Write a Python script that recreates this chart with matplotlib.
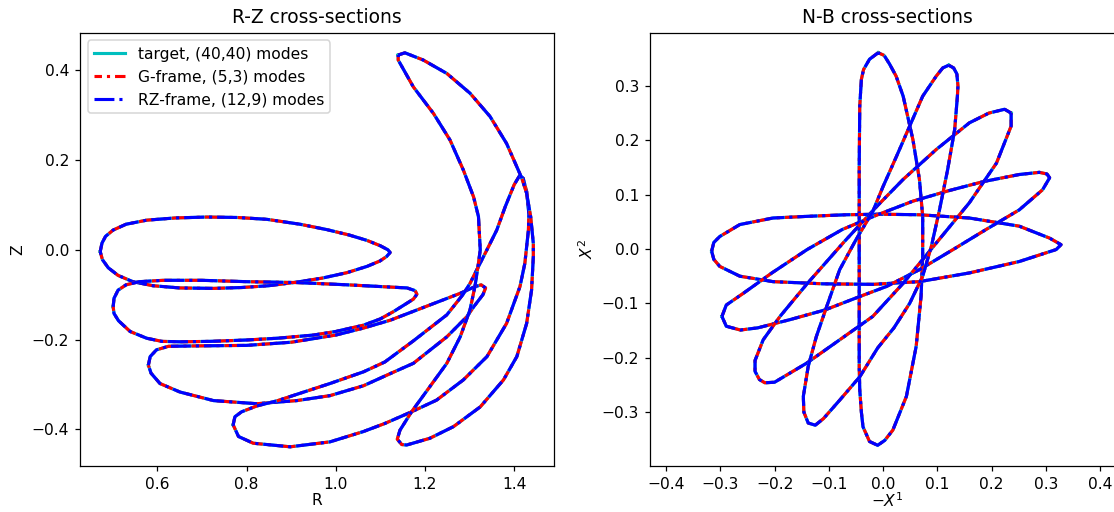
import matplotlib
matplotlib.use("Agg")
import matplotlib.pyplot as plt

# cross-section outlines (R, Z) and (-X1, X2)
rz_sec1 = [(0.472, -0.004), (0.476, 0.015), (0.484, 0.030), (0.501, 0.044), (0.530, 0.057),
           (0.576, 0.066), (0.640, 0.071), (0.711, 0.073), (0.780, 0.072), (0.845, 0.068),
           (0.920, 0.057), (0.980, 0.045), (1.030, 0.033), (1.070, 0.021), (1.100, 0.009),
           (1.117, 0.000), (1.122, -0.006), (1.114, -0.015), (1.099, -0.025), (1.070, -0.037),
           (1.025, -0.051), (0.970, -0.063), (0.913, -0.072), (0.850, -0.080), (0.790, -0.084),
           (0.726, -0.086), (0.650, -0.085), (0.590, -0.080), (0.545, -0.071), (0.512, -0.057),
           (0.490, -0.040), (0.477, -0.022)]
rz_sec2 = [(0.501, -0.127), (0.503, -0.108), (0.512, -0.090), (0.530, -0.078), (0.560, -0.071),
           (0.613, -0.068), (0.700, -0.068), (0.800, -0.071), (0.913, -0.073), (1.025, -0.078),
           (1.122, -0.083), (1.160, -0.085), (1.178, -0.091), (1.182, -0.099), (1.174, -0.110),
           (1.150, -0.125), (1.129, -0.138), (1.100, -0.154), (1.062, -0.168), (1.000, -0.182),
           (0.950, -0.190), (0.870, -0.197), (0.800, -0.201), (0.720, -0.204), (0.651, -0.205),
           (0.610, -0.204), (0.576, -0.197), (0.539, -0.182), (0.513, -0.158), (0.503, -0.142)]
rz_sec3 = [(0.580, -0.257), (0.584, -0.238), (0.598, -0.223), (0.625, -0.215), (0.700, -0.214),
           (0.800, -0.213), (0.900, -0.206), (1.000, -0.190), (1.060, -0.175), (1.122, -0.157),
           (1.211, -0.123), (1.279, -0.097), (1.310, -0.083), (1.326, -0.078), (1.336, -0.085),
           (1.330, -0.100), (1.310, -0.126), (1.294, -0.149), (1.249, -0.194), (1.174, -0.253),
           (1.122, -0.276), (1.062, -0.303), (0.987, -0.325), (0.913, -0.336), (0.823, -0.343),
           (0.726, -0.336), (0.651, -0.317), (0.606, -0.298), (0.586, -0.275)]
rz_sec4 = [(0.770, -0.390), (0.774, -0.372), (0.789, -0.361), (0.823, -0.348), (0.870, -0.336),
           (0.913, -0.322), (0.987, -0.298), (1.062, -0.272), (1.110, -0.250), (1.174, -0.203),
           (1.249, -0.145), (1.285, -0.100), (1.301, -0.075), (1.316, -0.045), (1.339, 0.000),
           (1.361, 0.044), (1.380, 0.096), (1.400, 0.145), (1.412, 0.165), (1.420, 0.160),
           (1.428, 0.130), (1.433, 0.080), (1.432, 0.044), (1.424, -0.030), (1.413, -0.082),
           (1.383, -0.164), (1.339, -0.238), (1.286, -0.290), (1.226, -0.335), (1.170, -0.361),
           (1.110, -0.387), (1.062, -0.405), (0.987, -0.428), (0.898, -0.439), (0.815, -0.431),
           (0.782, -0.416)]
rz_sec5 = [(1.140, 0.434), (1.155, 0.439), (1.196, 0.423), (1.249, 0.393), (1.301, 0.349),
           (1.346, 0.297), (1.383, 0.237), (1.406, 0.185), (1.417, 0.160), (1.428, 0.126),
           (1.437, 0.074), (1.443, 0.014), (1.443, -0.015), (1.439, -0.090), (1.428, -0.164),
           (1.406, -0.238), (1.376, -0.290), (1.324, -0.350), (1.264, -0.394), (1.211, -0.420),
           (1.159, -0.435), (1.148, -0.434), (1.138, -0.422), (1.144, -0.402), (1.170, -0.361),
           (1.211, -0.305), (1.249, -0.253), (1.279, -0.194), (1.301, -0.134), (1.312, -0.082),
           (1.320, -0.030), (1.324, 0.000), (1.320, 0.074), (1.309, 0.118), (1.286, 0.178),
           (1.256, 0.245), (1.219, 0.304), (1.174, 0.363), (1.140, 0.423)]

nb_sec1 = [(-0.009, 0.361), (-0.025, 0.349), (-0.036, 0.330), (-0.040, 0.312), (-0.043, 0.263),
           (-0.044, 0.150), (-0.044, 0.030), (-0.044, -0.093), (-0.044, -0.216), (-0.043, -0.259),
           (-0.040, -0.300), (-0.037, -0.327), (-0.025, -0.354), (-0.010, -0.361), (0.003, -0.352),
           (0.018, -0.333), (0.043, -0.271), (0.061, -0.179), (0.070, -0.087), (0.073, -0.014),
           (0.073, 0.060), (0.067, 0.128), (0.055, 0.201), (0.037, 0.281), (0.024, 0.318),
           (0.012, 0.340), (0.002, 0.356)]
nb_sec2 = [(-0.316, -0.004), (-0.312, 0.012), (-0.301, 0.023), (-0.264, 0.045), (-0.203, 0.057),
           (-0.141, 0.060), (-0.068, 0.063), (-0.006, 0.064), (0.067, 0.063), (0.159, 0.057),
           (0.251, 0.042), (0.307, 0.020), (0.328, 0.008), (0.319, -0.001), (0.251, -0.023),
           (0.159, -0.044), (0.067, -0.060), (-0.019, -0.065), (-0.111, -0.064), (-0.203, -0.060),
           (-0.264, -0.050), (-0.301, -0.032), (-0.312, -0.019)]
nb_sec3 = [(-0.297, -0.124), (-0.289, -0.103), (-0.257, -0.081), (-0.205, -0.044), (-0.140, -0.001),
           (-0.075, 0.036), (-0.010, 0.063), (0.055, 0.088), (0.120, 0.107), (0.185, 0.124),
           (0.251, 0.137), (0.288, 0.141), (0.302, 0.138), (0.307, 0.131), (0.294, 0.109),
           (0.251, 0.072), (0.190, 0.036), (0.129, -0.001), (0.067, -0.038), (0.006, -0.069),
           (-0.042, -0.087), (-0.107, -0.112), (-0.172, -0.130), (-0.231, -0.145), (-0.263, -0.149),
           (-0.289, -0.142)]
nb_sec4 = [(0.236, 0.250), (0.224, 0.257), (0.195, 0.250), (0.159, 0.232), (0.098, 0.183),
           (0.037, 0.128), (-0.010, 0.080), (-0.072, 0.013), (-0.141, -0.065), (-0.190, -0.124),
           (-0.221, -0.167), (-0.236, -0.205), (-0.236, -0.225), (-0.228, -0.240), (-0.218, -0.246),
           (-0.200, -0.245), (-0.141, -0.210), (-0.080, -0.167), (-0.019, -0.124), (0.037, -0.063),
           (0.098, 0.011), (0.159, 0.085), (0.209, 0.158), (0.236, 0.226)]
nb_sec5 = [(0.121, 0.338), (0.130, 0.333), (0.136, 0.322), (0.138, 0.300), (0.137, 0.281),
           (0.132, 0.220), (0.119, 0.146), (0.104, 0.072), (0.089, 0.005), (0.073, -0.050),
           (0.049, -0.100), (0.020, -0.145), (-0.010, -0.182), (-0.043, -0.235), (-0.080, -0.278),
           (-0.110, -0.312), (-0.125, -0.324), (-0.138, -0.320), (-0.146, -0.300), (-0.147, -0.271),
           (-0.138, -0.216), (-0.123, -0.161), (-0.104, -0.106), (-0.080, -0.038), (-0.050, 0.017),
           (-0.019, 0.069), (0.000, 0.115), (0.025, 0.171), (0.049, 0.226), (0.073, 0.281),
           (0.098, 0.318), (0.110, 0.333)]

rz_sections = [rz_sec1, rz_sec2, rz_sec3, rz_sec4, rz_sec5]
nb_sections = [nb_sec1, nb_sec2, nb_sec3, nb_sec4, nb_sec5]

labels = ["target, (40,40) modes", "G-frame, (5,3) modes", "RZ-frame, (12,9) modes"]
colors = ["c", "r", "b"]
styles = ["-", (4.0, (6.4, 1.6, 1.0, 1.6)), (0, (6.4, 1.6, 1.0, 1.6))]

DPI = 112
fig = plt.figure(figsize=(1114 / DPI, 512 / DPI), dpi=DPI)
ax1 = fig.add_axes([80 / 1114, 46.3 / 512, 474.3 / 1114, 433 / 512])
ax2 = fig.add_axes([650 / 1114, 46.3 / 512, 474.3 / 1114, 433 / 512])


def draw(ax, sections):
    for i, sec in enumerate(sections):
        xs = [p[0] for p in sec] + [sec[0][0]]
        ys = [p[1] for p in sec] + [sec[0][1]]
        for k in range(3):
            ax.plot(xs, ys, color=colors[k], linestyle=styles[k], lw=2,
                    label=labels[k] if i == 0 else None)


draw(ax1, rz_sections)
draw(ax2, nb_sections)

ax1.set_xlim(0.4267, 1.490)
ax1.set_ylim(-0.4811, 0.4838)
ax1.set_xlabel("R", labelpad=1)
ax1.set_ylabel("Z")
ax1.set_title("R-Z cross-sections", fontsize=12)
ax1.legend(loc="upper left")

ax2.set_xlim(-0.4296, 0.4446)
ax2.set_ylim(-0.3985, 0.3978)
ax2.set_xticks([-0.4, -0.3, -0.2, -0.1, 0.0, 0.1, 0.2, 0.3, 0.4])
ax2.set_xlabel(r"$-X^1$", labelpad=0)
ax2.set_ylabel(r"$X^2$")
ax2.set_title("N-B cross-sections", fontsize=12)

fig.savefig("out.png", dpi=DPI)
